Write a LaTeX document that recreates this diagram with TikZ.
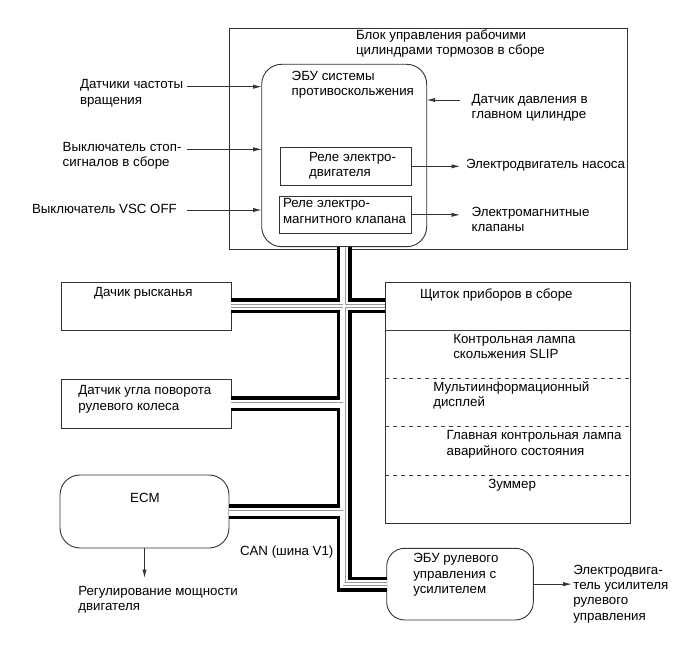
\documentclass[tikz,border=0pt]{standalone}
\usepackage{fontspec}
\setmainfont{Liberation Sans}
\usetikzlibrary{arrows.meta}
\begin{document}
\begin{tikzpicture}[x=1pt,y=-1pt,
  txt/.style={inner sep=0pt, outer sep=0pt, align=left, anchor=base west, font=\fontsize{13.3}{15.3}\selectfont},
  boxn/.style={draw=black!80, line width=0.9pt, inner sep=0pt, outer sep=0pt},
  rbox/.style={boxn, rounded corners=20pt},
  arr/.style={draw=black!80, line width=0.8pt, -{Latex[length=8.5pt,width=4.2pt]}},
  sep/.style={draw=black!75, line width=0.8pt},
  dsep/.style={draw=black!75, line width=0.8pt, dash pattern=on 4pt off 4pt},
  busA/.style={line width=15pt, black},
  busB/.style={line width=8pt, white},
  busC/.style={line width=3.4pt, black!40},
  busD/.style={line width=2pt, white}]
\useasboundingbox (0,0) rectangle (691,660);
\fill[white] (0,0) rectangle (691,660);

% boxes
\node[boxn, minimum width=398.3pt, minimum height=221pt] (outer) at (428.15,138.8) {};
\node[rbox, minimum width=165pt, minimum height=182.4pt] (ebu) at (344.2,155.5) {};
\node[boxn, minimum width=131.7pt, minimum height=37.3pt] (relay1) at (345.85,166.35) {};
\node[boxn, minimum width=131.7pt, minimum height=36.3pt] (relay2) at (345.15,214.85) {};
\node[boxn, minimum width=170pt, minimum height=48pt] (yaw) at (146,306) {};
\node[boxn, minimum width=170pt, minimum height=49pt] (angle) at (146,403.5) {};
\node[rbox, minimum width=169pt, minimum height=73pt] (ecm) at (144.5,511.5) {};
\node[boxn, minimum width=245pt, minimum height=240.6pt] (dash) at (507.5,403) {};
\node[rbox, rounded corners=18pt, minimum width=146.6pt, minimum height=71.7pt] (eps) at (460,584.15) {};

% separators in instrument cluster
\draw[sep] (dash.west |- 0,330) -- (dash.east |- 0,330);
\draw[dsep] (dash.west |- 0,378.3) -- (dash.east |- 0,378.3);
\draw[dsep] (dash.west |- 0,426.7) -- (dash.east |- 0,426.7);
\draw[dsep] (dash.west |- 0,475) -- (dash.east |- 0,475);

% texts (base = baseline of last line)
\node[txt] (blk) at (356,55) {Блок управления рабочими\\цилиндрами тормозов в сборе};
\node[txt] (ebut) at (291.7,95.5) {ЭБУ системы\\противоскольжения};
\node[txt] (press) at (471.7,119) {Датчик давления в\\главном цилиндре};
\node[txt] (r1t) at (309,176.7) {Реле электро-\\двигателя};
\node[txt] (pump) at (466,168.3) {Электродвигатель насоса};
\node[txt] (r2t) at (283,223.3) {Реле электро-\\магнитного клапана};
\node[txt] (valves) at (471.7,232) {Электромагнитные\\клапаны};
\node[txt] (spd) at (80,104.3) {Датчики частоты\\вращения};
\node[txt] (stop) at (62.7,166.7) {Выключатель стоп-\\сигналов в сборе};
\node[txt] (vsc) at (32,213.3) {Выключатель VSC OFF};
\node[txt, anchor=base] (yawt) at (143.3,296.7) {Дачик рысканья};
\node[txt] (angt) at (78.3,410) {Датчик угла поворота\\рулевого колеса};
\node[txt, anchor=base] (ecmt) at (145,502.3) {ECM};
\node[txt] (can) at (240,555) {CAN (шина V1)};
\node[txt] (pwr) at (78.3,610.7) {Регулирование мощности\\двигателя};
\node[txt] (dasht) at (420,298.3) {Щиток приборов в сборе};
\node[txt] (slip) at (453.3,359) {Контрольная лампа\\скольжения SLIP};
\node[txt] (multi) at (433.3,406.7) {Мультиинформационный\\дисплей};
\node[txt] (master) at (446.7,455) {Главная контрольная лампа\\аварийного состояния};
\node[txt] (buzz) at (488.3,488.3) {Зуммер};
\node[txt] (epst) at (413.3,593.3) {ЭБУ рулевого\\управления с\\усилителем};
\node[txt] (motor) at (573.3,620) {Электродвига-\\тель усилителя\\рулевого\\управления};

% arrow end points
\coordinate (a1) at (186.7,86.7);
\coordinate (a2) at (186.7,149.3);
\coordinate (a3) at (186.7,210);
\coordinate (p1) at (460,100);
\coordinate (o1) at (460,165.7);
\coordinate (o2) at (460,212.7);
\coordinate (o3) at (571.7,584.15);
\coordinate (o4) at (144.5,578);

\draw[arr] (a1) -- (a1 -| ebu.west);
\draw[arr] (a2) -- (a2 -| ebu.west);
\draw[arr] (a3) -- (a3 -| ebu.west);
\draw[arr] (p1) -- (p1 -| ebu.east);
\draw[arr] (relay1.east) -- (o1 |- relay1.east);
\draw[arr] (relay2.east) -- (o2 |- relay2.east);
\draw[arr] (eps.east) -- (o3);
\draw[arr] (ecm.south) -- (o4);

% CAN bus
\foreach \st in {busA,busB,busC,busD}{
  \draw[\st] (ebu.south) -- (ebu.south |- eps.west) -- (eps.west);
  \draw[\st] (yaw.east) -- (yaw.east -| dash.west);
  \draw[\st] (angle.east) -- (angle.east -| ebu.south);
  \draw[\st] (ecm.east) -- (ecm.east -| ebu.south);
}
\end{tikzpicture}
\end{document}
